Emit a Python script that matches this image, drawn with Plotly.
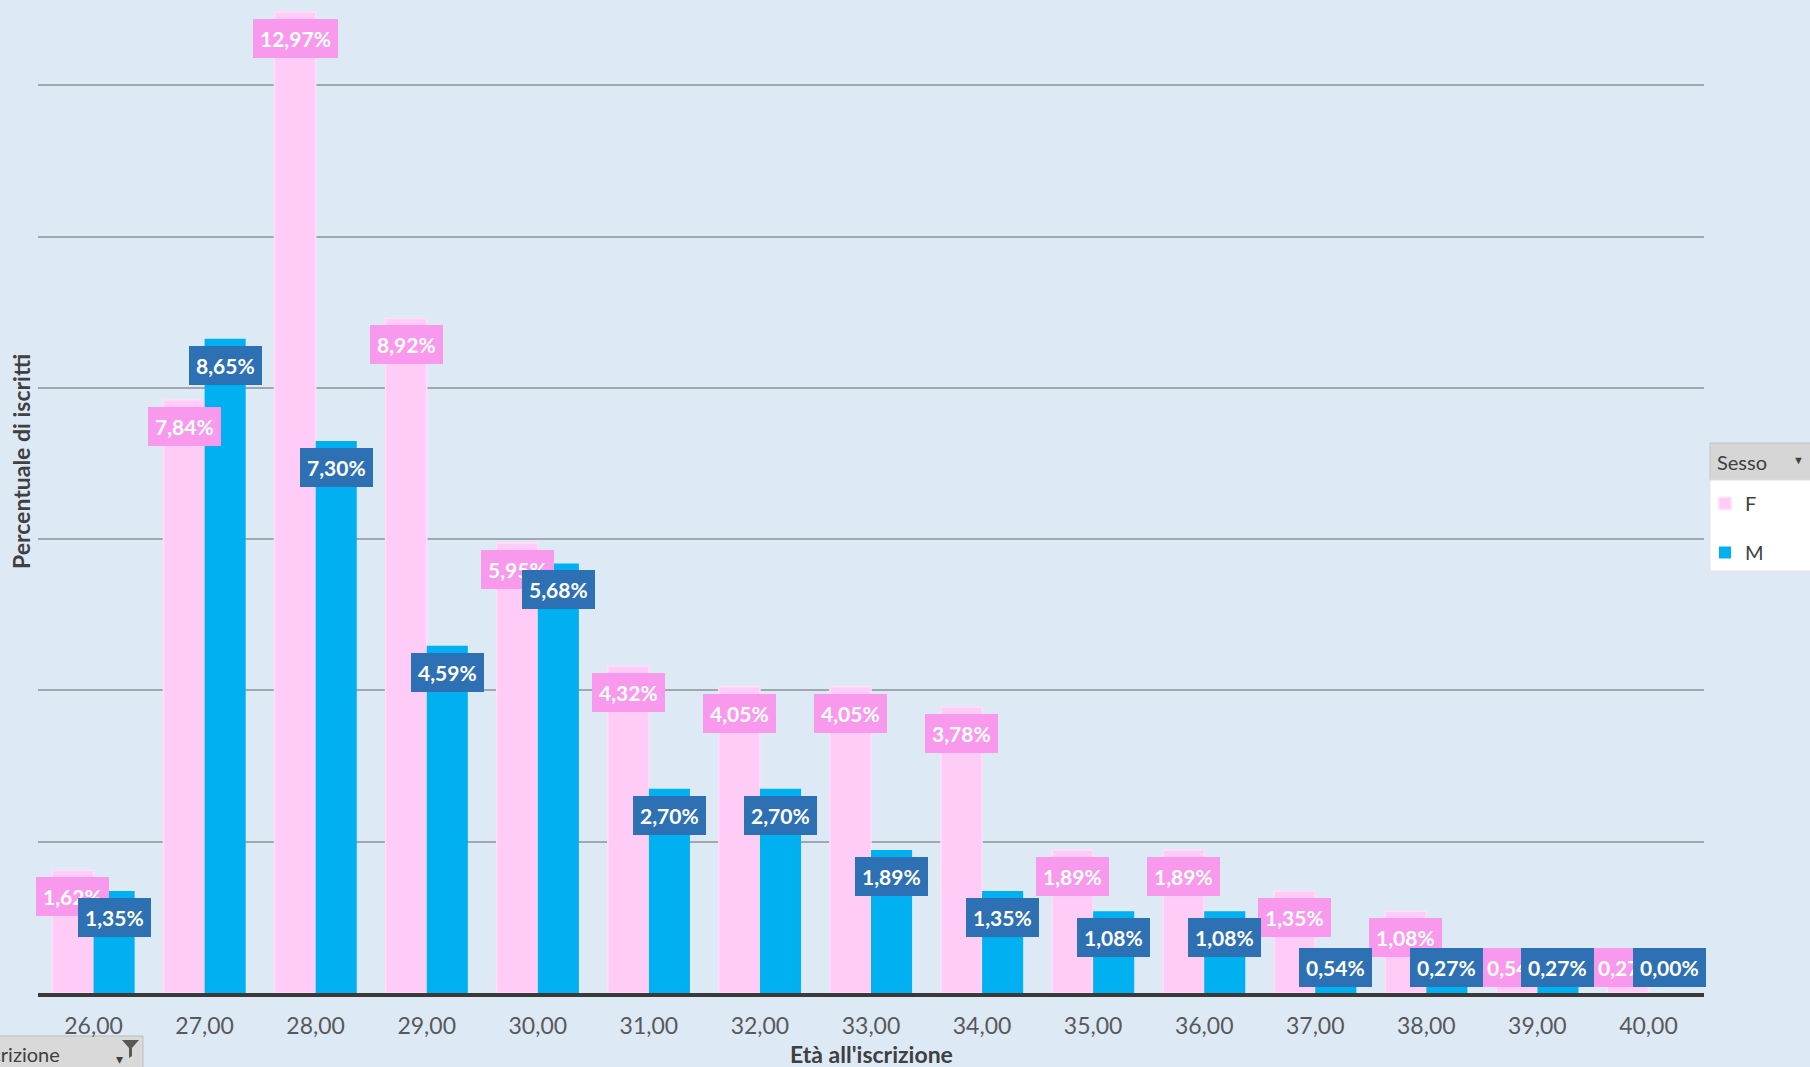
import plotly.graph_objects as go

# ---- data ----
categories = ["26,00", "27,00", "28,00", "29,00", "30,00", "31,00", "32,00", "33,00",
              "34,00", "35,00", "36,00", "37,00", "38,00", "39,00", "40,00"]
f_values = [1.62, 7.84, 12.97, 8.92, 5.95, 4.32, 4.05, 4.05, 3.78, 1.89, 1.89, 1.35, 1.08, 0.54, 0.27]
m_values = [1.35, 8.65, 7.30, 4.59, 5.68, 2.70, 2.70, 1.89, 1.35, 1.08, 1.08, 0.54, 0.27, 0.27, 0.00]
series_names = ["F", "M"]

# ---- layout geometry ----
W, H = 1810, 1067
L, R, T, B = 38, 106, 0, 74
PW, PH = W - L - R, H - T - B
YMAX = 13.13
BARGAP = 0.26
HALF = (1 - BARGAP) / 4  # offset of each bar centre from category centre

BG = "#DDEAF6"
F_BAR, M_BAR = "#FFCCF7", "#00B0F0"
F_LAB, M_LAB = "#F899EE", "#2E70B4"
TXT = "#404040"
FONT = "Lato"


def px(x):
    return (x - L) / PW


def py(y):
    return (H - B - y) / PH


def fmt(v):
    return f"{v:.2f}".replace(".", ",") + "%"


fig = go.Figure()
fig.add_trace(go.Bar(name=series_names[0], x=categories, y=f_values, marker_color=F_BAR,
                     marker_line=dict(color="#FFDDFB", width=1.5), legendgroup="F"))
fig.add_trace(go.Bar(name=series_names[1], x=categories, y=m_values, marker_color=M_BAR,
                     marker_line=dict(width=0), legendgroup="M"))

annotations = []
for vals, off, col in ((f_values, -HALF, F_LAB), (m_values, HALF, M_LAB)):
    for i, v in enumerate(vals):
        annotations.append(dict(
            x=i + off, y=max(v - 0.35, 0.34), xref="x", yref="y",
            text="<b>" + fmt(v) + "</b>", showarrow=False,
            font=dict(family=FONT, size=21, color="white"),
            bgcolor=col, bordercolor=col, borderwidth=1, borderpad=6,
            xanchor="center", yanchor="middle"))

# axis titles
annotations.append(dict(x=px(L + PW / 2), y=py(1054), xref="paper", yref="paper",
                        text="<b>Età all'iscrizione</b>", showarrow=False,
                        font=dict(family=FONT, size=23, color=TXT), xanchor="center", yanchor="middle"))
annotations.append(dict(x=px(21), y=py(462), xref="paper", yref="paper", textangle=-90,
                        text="<b>Percentuale di iscritti</b>", showarrow=False,
                        font=dict(family=FONT, size=23, color=TXT), xanchor="center", yanchor="middle"))
# legend header
annotations.append(dict(x=px(1715), y=py(462), xref="paper", yref="paper", text="Sesso",
                        showarrow=False, font=dict(family=FONT, size=20, color=TXT),
                        xanchor="left", yanchor="middle"))
annotations.append(dict(x=px(1798), y=py(460), xref="paper", yref="paper", text="▼",
                        showarrow=False, font=dict(family=FONT, size=11, color=TXT),
                        xanchor="center", yanchor="middle"))
# field button (bottom-left)
annotations.append(dict(x=px(62), y=py(1054), xref="paper", yref="paper", text="Età all'iscrizione",
                        showarrow=False, font=dict(family=FONT, size=20, color=TXT),
                        xanchor="right", yanchor="middle"))
annotations.append(dict(x=px(119), y=py(1058), xref="paper", yref="paper", text="▾",
                        showarrow=False, font=dict(family=FONT, size=14, color=TXT),
                        xanchor="center", yanchor="middle"))

shapes = [
    # legend header and body
    dict(type="rect", xref="paper", yref="paper", x0=px(1710), x1=px(1812), y0=py(443), y1=py(480),
         fillcolor="#D6D6D6", line=dict(color="#C4C4C4", width=1), layer="below"),
    dict(type="rect", xref="paper", yref="paper", x0=px(1710), x1=px(1812), y0=py(480), y1=py(571),
         fillcolor="white", line=dict(color="#E4E4E4", width=1), layer="below"),
    # field button
    dict(type="rect", xref="paper", yref="paper", x0=px(-5), x1=px(143), y0=py(1036), y1=py(1075),
         fillcolor="#D9D9D9", line=dict(color="#BDBDBD", width=1), layer="below"),
    # funnel icon
    dict(type="path", xref="paper", yref="paper",
         path=f"M {px(122)},{py(1040)} L {px(139)},{py(1040)} L {px(132)},{py(1048)} "
              f"L {px(132)},{py(1056)} L {px(129)},{py(1058)} L {px(129)},{py(1048)} Z",
         fillcolor="#595959", line=dict(width=0)),
]

fig.update_layout(
    width=W, height=H,
    barmode="group", bargap=BARGAP, bargroupgap=0,
    paper_bgcolor=BG, plot_bgcolor=BG,
    margin=dict(l=L, r=R, t=T, b=B, autoexpand=False),
    font=dict(family=FONT, color=TXT),
    showlegend=True,
    legend=dict(xref="container", yref="container", x=1705 / W, y=1 - 484 / H,
                xanchor="left", yanchor="top", bgcolor="rgba(0,0,0,0)",
                font=dict(family=FONT, size=20, color=TXT), traceorder="grouped",
                tracegroupgap=20, itemwidth=30),
    annotations=annotations,
    shapes=shapes,
)
fig.update_xaxes(type="category", showline=True, linecolor="#3A3A3A", linewidth=4,
                 showgrid=False, ticks="outside", ticklen=9, tickcolor=BG,
                 tickfont=dict(family=FONT, size=23, color="#595959"), range=[-0.5, 14.5])
fig.update_yaxes(range=[0, YMAX], dtick=2, showticklabels=False, showgrid=True,
                 gridcolor="#A0A7AF", gridwidth=2, zeroline=False, showline=False)

fig.write_html("out.html", config={"displayModeBar": False},
               post_script="document.body.style.margin='0';document.body.style.padding='0';"
                           "document.body.style.overflow='hidden';"
                           "document.body.style.background='#DDEAF6';")
